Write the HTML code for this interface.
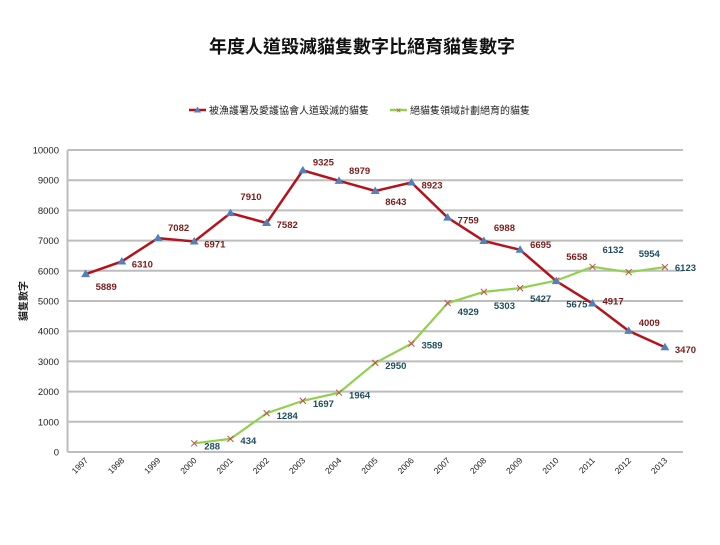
<!DOCTYPE html>
<html><head><meta charset="utf-8"><style>
body{margin:0;background:#fff;}
svg text{font-family:"Liberation Sans","Noto Sans CJK TC",sans-serif;}
</style></head><body>
<svg width="720" height="540" viewBox="0 0 720 540" id="chart">
<text x="362" y="53" text-anchor="middle" font-size="18" font-weight="bold" fill="#111">年度人道毀滅貓隻數字比絕育貓隻數字</text>
<g>
 <g>
  <line x1="189" y1="110" x2="206" y2="110" stroke="#b5121b" stroke-width="2.5"/>
  <polygon points="197.5,106.5 201,112.5 194,112.5" fill="#4f81bd"/>
  <text x="209" y="114" font-size="10" fill="#222">被漁護署及愛護協會人道毀滅的貓隻</text>
 </g>
 <g>
  <line x1="390" y1="110" x2="407" y2="110" stroke="#92d050" stroke-width="2.5"/>
  <text x="398.5" y="113.5" font-size="9" text-anchor="middle" fill="#c0504d">×</text>
  <text x="410" y="114" font-size="10" fill="#222">絕貓隻領域計劃絕育的貓隻</text>
 </g>
</g>
<text transform="translate(27,301) rotate(-90)" text-anchor="middle" font-size="10" font-weight="bold" fill="#222">貓隻數字</text>
<g id="grid"></g><g id="series"></g><g id="labels"></g>
</svg>
<script>
const years=["1997","1998","1999","2000","2001","2002","2003","2004","2005","2006","2007","2008","2009","2010","2011","2012","2013"];
const euthanized=[5889,6310,7082,6971,7910,7582,9325,8979,8643,8923,7759,6988,6695,5658,4917,4009,3470];
const neutered=[null,null,null,288,434,1284,1697,1964,2950,3589,4929,5303,5427,5675,6132,5954,6123];
const yTicks=[0,1000,2000,3000,4000,5000,6000,7000,8000,9000,10000];
// label offsets (styling only)
const redDy=[12,2,-11,2,-17,1,-9,-11,10,2,2,-14,-6,-25,-3,-9,2];
const grnDy=[0,0,0,2,1,2,2,2,2,1,8,13,10,23,-18,-19,0];
const NS="http://www.w3.org/2000/svg";
const L=67.5,R=683,T=150,B=452,yMax=10000;
const band=(R-L)/years.length;
const xs=i=>L+band*(i+0.5);
const ys=v=>B-(v/yMax)*(B-T);
function mk(tag,attrs,parent){const e=document.createElementNS(NS,tag);for(const k in attrs)e.setAttribute(k,attrs[k]);parent.appendChild(e);return e;}
const grid=document.getElementById('grid'),series=document.getElementById('series'),labels=document.getElementById('labels');
yTicks.forEach(t=>{
 const ln=mk('line',{x1:L,x2:R,y1:ys(t),y2:ys(t),stroke:'#bdbdbd','stroke-width':2},grid);
 
 
 const tx=mk('text',{x:59,y:ys(t)+3.5,'text-anchor':'end','font-size':9.5,fill:'#222'},grid);
 tx.textContent=t;
 
 
});
const ax=mk('line',{x1:L,x2:L,y1:T,y2:B,stroke:'#bdbdbd','stroke-width':2},grid);


years.forEach((y,i)=>{
 const x=xs(i)+3,yy=461;
 const tx=mk('text',{x:x,y:yy,'text-anchor':'end','font-size':8.5,fill:'#222',transform:`rotate(-45 ${x} ${yy})`},grid);
 tx.textContent=y;
 
 
});
function path(arr){let d='';arr.forEach((v,i)=>{if(v==null)return;d+=(d?'L':'M')+xs(i)+' '+ys(v);});return d;}
const gp=mk('path',{d:path(neutered),fill:'none',stroke:'#92d050','stroke-width':2.2},series);


const rp=mk('path',{d:path(euthanized),fill:'none',stroke:'#b5121b','stroke-width':2.5},series);


neutered.forEach((v,i)=>{
 if(v==null)return;
 const x=xs(i),y=ys(v);
 const m=mk('path',{d:`M${x-3} ${y-3}L${x+3} ${y+3}M${x-3} ${y+3}L${x+3} ${y-3}`,stroke:'#c0504d','stroke-width':1},series);
 
 
 const t=mk('text',{x:x+10,y:y+grnDy[i]+4,'font-size':9.5,'font-weight':'bold',fill:'#1f4e5f'},labels);
 t.textContent=v;
 
 
});
euthanized.forEach((v,i)=>{
 const x=xs(i),y=ys(v);
 const m=mk('polygon',{points:`${x},${y-4.5} ${x+4.5},${y+3} ${x-4.5},${y+3}`,fill:'#4f81bd'},series);
 
 
 const t=mk('text',{x:x+10,y:y+redDy[i]+4,'font-size':9.5,'font-weight':'bold',fill:'#7b1c1c'},labels);
 t.textContent=v;
 
 
});
</script>
</body></html>
